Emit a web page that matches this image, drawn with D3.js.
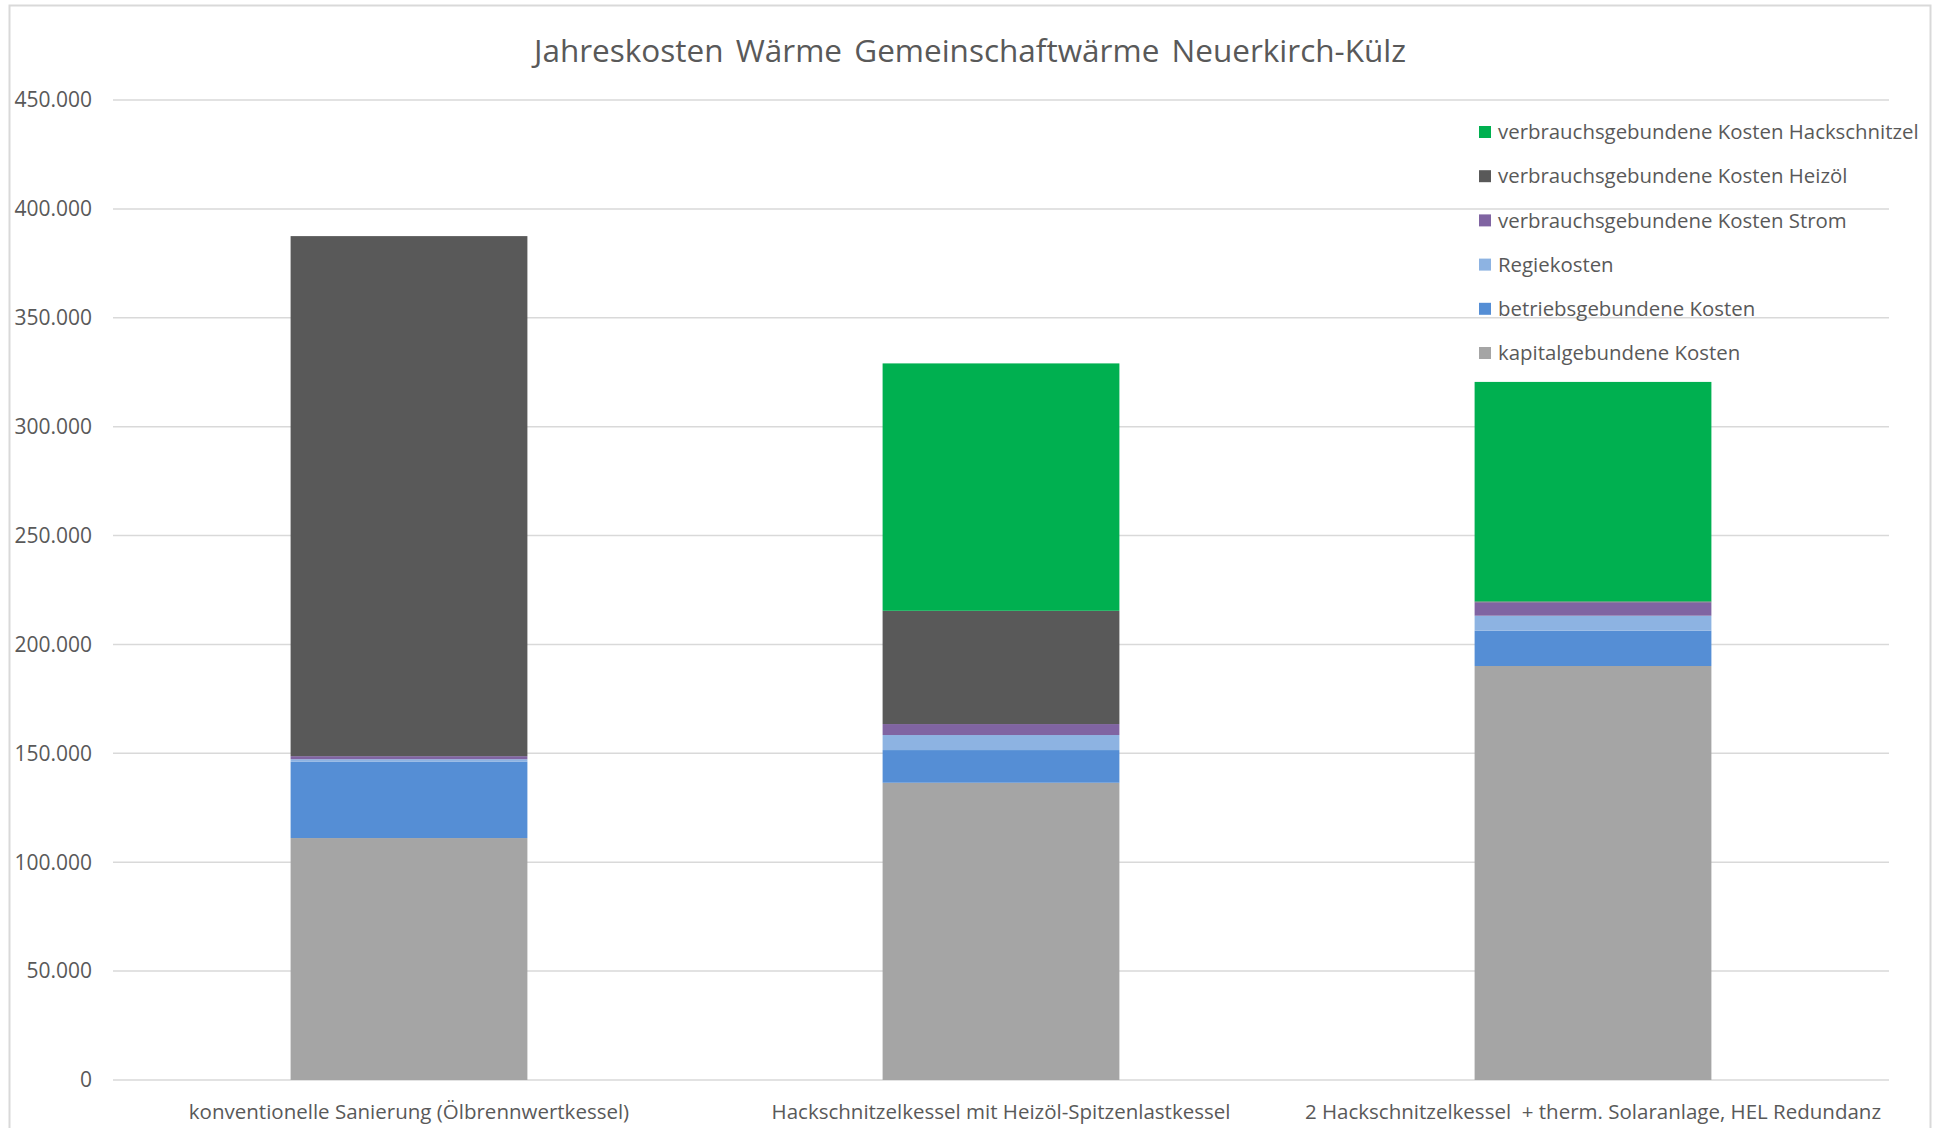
<!DOCTYPE html>
<html>
<head>
<meta charset="utf-8">
<script src="https://cdn.jsdelivr.net/npm/d3@7"></script>
<style>
  body { margin: 0; background: #fff; }
  text { font-family: "Open Sans", sans-serif; fill: #595959; white-space: pre; }
</style>
</head>
<body>
<svg id="chart" width="1937" height="1128"></svg>
<script>
const categories = [
  'konventionelle Sanierung (Ölbrennwertkessel)',
  'Hackschnitzelkessel mit Heizöl-Spitzenlastkessel',
  '2 Hackschnitzelkessel  + therm. Solaranlage, HEL Redundanz'
];
// stacked from bottom to top
const seriesNames = [
  'kapitalgebundene Kosten',
  'betriebsgebundene Kosten',
  'Regiekosten',
  'verbrauchsgebundene Kosten Strom',
  'verbrauchsgebundene Kosten Heizöl',
  'verbrauchsgebundene Kosten Hackschnitzel'
];
const kapital = [111100, 136500, 190100];
const betrieb = [35000, 15000, 16200];
const regie = [1200, 6900, 6900];
const strom = [1400, 5050, 6150];
const heizoel = [238800, 52000, 400];
const hack = [0, 113600, 100800];
const yTicks = [0, 50000, 100000, 150000, 200000, 250000, 300000, 350000, 400000, 450000];
const colors = ['#a5a5a5', '#558ed5', '#8db3e2', '#8064a2', '#595959', '#00b050'];

const svg = d3.select('#chart');
const width = 1937;
const height = 1128;
const margin = { left: 113, right: 48, top: 100, bottom: 48 };

// chart frame
svg.append('rect')
  .attr('x', 9.5).attr('y', 5.5)
  .attr('width', 1921).attr('height', 1130)
  .attr('fill', 'none').attr('stroke', '#d9d9d9').attr('stroke-width', 2);

const table = categories.map((c, i) => {
  const row = { cat: c };
  [kapital, betrieb, regie, strom, heizoel, hack].forEach((arr, k) => { row[seriesNames[k]] = arr[i]; });
  return row;
});
const stacked = d3.stack().keys(seriesNames)(table);

const x = d3.scaleBand().domain(categories)
  .range([margin.left, width - margin.right])
  .paddingInner(0.6).paddingOuter(0.3);
const y = d3.scaleLinear().domain([0, 450000]).range([1080, margin.top]);

// gridlines
svg.append('g')
  .selectAll('line')
  .data(yTicks)
  .join('line')
  .attr('x1', margin.left).attr('x2', width - margin.right)
  .attr('y1', d => y(d)).attr('y2', d => y(d))
  .attr('stroke', '#d9d9d9').attr('stroke-width', 1.5);

const fmt = d3.formatLocale({ decimal: ',', thousands: '.', grouping: [3], currency: ['', ''] }).format(',d');

svg.append('g')
  .selectAll('text')
  .data(yTicks)
  .join('text')
  .attr('x', 92).attr('y', d => y(d))
  .attr('dy', '0.35em')
  .attr('text-anchor', 'end')
  .style('font-size', '21px')
  .text(d => fmt(d));

// bars
svg.append('g')
  .selectAll('g')
  .data(stacked)
  .join('g')
  .attr('fill', (d, i) => colors[i])
  .selectAll('rect')
  .data(d => d)
  .join('rect')
  .attr('x', d => x(d.data.cat))
  .attr('width', x.bandwidth())
  .attr('y', d => y(d[1]))
  .attr('height', d => y(d[0]) - y(d[1]));

// x labels
svg.append('g')
  .selectAll('text')
  .data(categories)
  .join('text')
  .attr('x', d => x(d) + x.bandwidth() / 2)
  .attr('y', 1112)
  .attr('dy', '0.35em')
  .attr('text-anchor', 'middle')
  .style('font-size', '20.5px')
  .text(d => d);

// title
svg.append('text')
  .attr('x', 970).attr('y', 51)
  .attr('dy', '0.35em')
  .attr('text-anchor', 'middle')
  .style('font-size', '31.5px')
  .style('word-spacing', '4px')
  .text('Jahreskosten Wärme Gemeinschaftwärme Neuerkirch-Külz');

// legend, top entry = last series
const legendItems = seriesNames.map((n, i) => ({ name: n, color: colors[i] })).reverse();
const legend = svg.append('g').attr('transform', 'translate(1479,132)');
const li = legend.selectAll('g')
  .data(legendItems)
  .join('g')
  .attr('transform', (d, i) => `translate(0,${i * 44.2})`);
li.append('rect')
  .attr('x', 0).attr('y', -6)
  .attr('width', 12).attr('height', 12)
  .attr('fill', d => d.color);
li.append('text')
  .attr('x', 19).attr('y', 0)
  .attr('dy', '0.35em')
  .style('font-size', '20.4px')
  .text(d => d.name);
</script>
</body>
</html>
